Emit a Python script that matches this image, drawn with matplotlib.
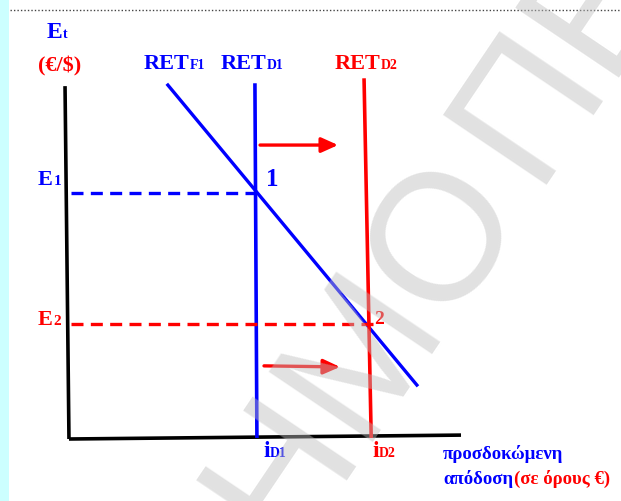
import matplotlib.pyplot as plt

# diagram units: x = expected return (0-100), y = exchange rate E_t (0-100)
axis_y_x = [-0.5, 0.5]
axis_y_y = [99.4, 0.0]
axis_x_x = [0.5, 100.0]
axis_x_y = [0.0, 1.1]

ret_f1_x = [25.6, 88.8]
ret_f1_y = [99.7, 15.2]
ret_d1_x = [47.7, 48.2]
ret_d1_y = [99.7, 0.8]
ret_d2_x = [75.4, 77.2]
ret_d2_y = [101.1, 0.8]

e1 = 69.3
e2 = 32.4
e1_end = 48.0
e2_end = 78.0

shift_x = [[49.0, 68.8], [50.0, 69.3]]
shift_y = [[82.8, 82.8], [20.6, 20.3]]

watermark = ['ΔΗΜΟ', 'ΠΕΙΡΑΙΑ']

BLUE = '#0000ff'
RED = '#ff0000'
SERIF = ['Liberation Serif', 'DejaVu Serif']

W, H = 621, 502
fig = plt.figure(figsize=(W / 100, H / 100), dpi=100)
fig.patch.set_facecolor('white')
renderer = fig.canvas.get_renderer()

def px(x, y):
    return x / W, 1 - y / H

# background decorations
bg = fig.add_axes([0, 0, 1, 1])
bg.set_xlim(0, W)
bg.set_ylim(H, 0)
bg.axis('off')
bg.axvspan(0, 9, color='#ccffff', lw=0)
bg.plot([10, W], [11, 11], ls=(0, (1, 1.5)), color='#444444', lw=1)

# diagram axes placed over the plot region (origin at pixel 67,440)
x0, y0, x1, y1 = 67, 440, 461, 85
ax = fig.add_axes([x0 / W, 1 - y0 / H, (x1 - x0) / W, (y0 - y1) / H])
ax.set_xlim(0, 100)
ax.set_ylim(0, 100)
ax.axis('off')

ax.plot(axis_y_x, axis_y_y, color='black', lw=2.6, clip_on=False, solid_capstyle='butt')
ax.plot(axis_x_x, axis_x_y, color='black', lw=2.6, clip_on=False, solid_capstyle='butt')
ax.plot(ret_f1_x, ret_f1_y, color=BLUE, lw=2.4, clip_on=False)
ax.plot(ret_d1_x, ret_d1_y, color=BLUE, lw=2.6, clip_on=False)
ax.plot(ret_d2_x, ret_d2_y, color=RED, lw=2.6, clip_on=False)
ax.plot([1, e1_end], [e1, e1], color=BLUE, lw=2.4, ls=(0, (3.6, 2.2)), clip_on=False)
ax.plot([1, e2_end], [e2, e2], color=RED, lw=2.4, ls=(0, (3.6, 2.2)), clip_on=False)
for sx, sy in zip(shift_x, shift_y):
    ax.annotate('', xy=(sx[1], sy[1]), xytext=(sx[0], sy[0]),
                arrowprops=dict(arrowstyle='-|>,head_length=1.0,head_width=0.45',
                                color=RED, lw=2.4, shrinkA=0, shrinkB=0))

def label(x, y, s, color, size, sub=None, subsize=10, subcolor=None, weight='bold'):
    t = fig.text(*px(x, y), s, color=color, fontsize=size, fontweight=weight,
                 family=SERIF, va='baseline', ha='left')
    if sub:
        bb = t.get_window_extent(renderer)
        fig.text(bb.x1 / W + 0.5 / W, 1 - y / H, sub, color=subcolor or color,
                 fontsize=subsize, fontweight=weight, family=SERIF,
                 va='baseline', ha='left')

label(47, 38, 'E', BLUE, 17, 't', 10)
label(38, 71, '(€/$)', RED, 16)
label(144, 69, 'RET', BLUE, 16, 'F1')
label(221, 69, 'RET', BLUE, 16, 'D1')
label(335, 69, 'RET', RED, 16, 'D2')
label(38, 185, 'E', BLUE, 16, '1', 11)
label(38, 325, 'E', RED, 16, '2', 11)
label(266, 186, '1', BLUE, 18)
label(374, 324, '2', RED, 14)
label(263, 457, 'i', BLUE, 17, 'D1')
label(372, 457, 'i', RED, 17, 'D2')
label(443, 459, 'προσδοκώμενη', BLUE, 13.5)
label(443, 484, 'απόδοση', BLUE, 13.5, '(σε όρους €)', 13.5, RED)

# watermark, drawn over the diagram
wm = dict(fontsize=130, color='#bebebe', alpha=0.45, rotation=56,
          va='baseline', rotation_mode='anchor',
          family=['Liberation Sans', 'DejaVu Sans'])
fig.text(*px(526, 208), watermark[0], ha='right', **wm)
fig.text(*px(532, 185), watermark[1], ha='left', **wm)

fig.savefig('out.png', dpi=100)
